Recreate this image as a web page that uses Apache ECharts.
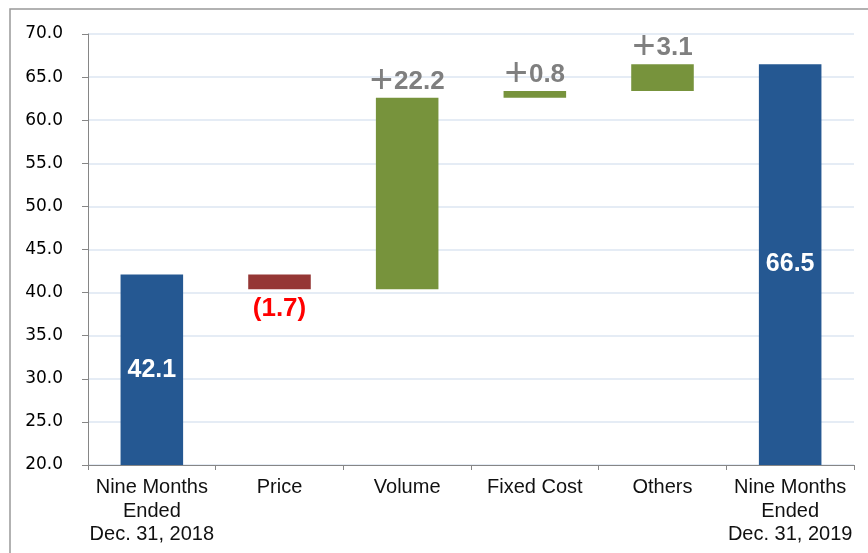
<!DOCTYPE html>
<html>
<head>
<meta charset="utf-8">
<script src="https://cdn.jsdelivr.net/npm/echarts@6/dist/echarts.min.js"></script>
<style>
  html, body { margin: 0; padding: 0; background: #fff; }
  #main { width: 868px; height: 553px; }
</style>
</head>
<body>
<div id="main"></div>
<script>
// waterfall data
var categories = ['Nine Months\nEnded\nDec. 31, 2018', 'Price', 'Volume', 'Fixed Cost', 'Others', 'Nine Months\nEnded\nDec. 31, 2019'];
var changes = [42.1, -1.7, 22.2, 0.8, 3.1, 66.5];
var kinds = ['total', 'delta', 'delta', 'delta', 'delta', 'total'];
var yTicks = { min: 20, max: 70, interval: 5 };

var blue = '#255892', red = '#953735', green = '#77933c', grey = '#7f7f7f';

// running total -> invisible base + visible piece
var base = [], piece = [], running = 0;
for (var i = 0; i < changes.length; i++) {
    var v = changes[i];
    if (kinds[i] == 'total') {
        base.push(0);
        piece.push(v);
        running = v;
    } else if (v < 0) {
        running = running + v;
        base.push(+running.toFixed(1));
        piece.push(-v);
    } else {
        base.push(+running.toFixed(1));
        piece.push(v);
        running = running + v;
    }
}

var pieceData = piece.map(function (p, i) {
    var v = changes[i];
    if (kinds[i] == 'total') {
        return {
            value: p,
            itemStyle: { color: blue },
            label: { show: true, position: 'inside', color: '#fff', fontSize: 25, fontWeight: 'bold',
                formatter: v.toFixed(1) }
        };
    }
    if (v < 0) {
        return {
            value: p,
            itemStyle: { color: red },
            label: { show: true, position: 'bottom', distance: 7, color: '#ff0000', fontSize: 26, fontWeight: 'bold',
                formatter: '(' + Math.abs(v).toFixed(1) + ')' }
        };
    }
    return {
        value: p,
        itemStyle: { color: green },
        label: { show: true, position: 'top', distance: 3, color: grey,
            formatter: '{p|+}{n|' + v.toFixed(1) + '}' }
    };
});

var myChart = echarts.init(document.getElementById('main'));
var option = {
    backgroundColor: '#fff',
    animation: false,
    graphic: [{
        type: 'rect',
        shape: { x: 10, y: 9, width: 900, height: 600 },
        style: { fill: 'none', stroke: '#999', lineWidth: 1.5 },
        silent: true
    }],
    grid: {
        left: 88,
        right: 14,
        top: 34,
        bottom: 88
    },
    xAxis: {
        type: 'category',
        data: categories,
        axisLine: { lineStyle: { color: '#868686', width: 1 } },
        axisTick: { show: true, length: 5, lineStyle: { color: '#868686' } },
        axisLabel: {
            color: '#111',
            fontFamily: 'Liberation Sans, Arial, sans-serif',
            fontSize: 20,
            lineHeight: 23.5,
            margin: 11,
            interval: 0
        }
    },
    yAxis: {
        type: 'value',
        min: yTicks.min,
        max: yTicks.max,
        interval: yTicks.interval,
        axisLine: { show: true, lineStyle: { color: '#868686', width: 1 } },
        axisTick: { show: true, length: 6, lineStyle: { color: '#868686' } },
        axisLabel: {
            color: '#000',
            fontFamily: 'DejaVu Sans, Verdana, sans-serif',
            fontSize: 17,
            margin: 25,
            formatter: function (val) { return val.toFixed(1); }
        },
        splitLine: { show: true, lineStyle: { color: '#dce6f2', width: 1.5 } }
    },
    series: [
        {
            type: 'bar',
            name: 'base',
            stack: 'wf',
            barWidth: '49%',
            silent: true,
            itemStyle: { color: 'transparent' },
            data: base
        },
        {
            type: 'bar',
            name: 'piece',
            stack: 'wf',
            barWidth: '49%',
            label: {
                rich: {
                    p: { fontSize: 40, lineHeight: 26, fontWeight: 'normal', color: grey, fontFamily: 'Liberation Sans, Arial, sans-serif', padding: [0, 1, 0, 0] },
                    n: { fontSize: 26, lineHeight: 26, fontWeight: 'bold', color: grey, fontFamily: 'Liberation Sans, Arial, sans-serif' }
                },
                fontFamily: 'Liberation Sans, Arial, sans-serif'
            },
            data: pieceData
        }
    ]
};
myChart.setOption(option);
</script>
</body>
</html>
